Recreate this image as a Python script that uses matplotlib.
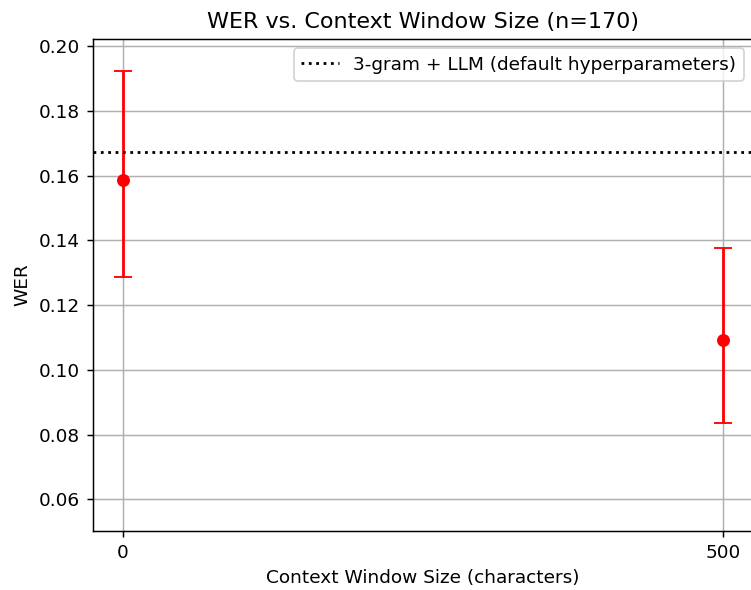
import matplotlib
matplotlib.use("Agg")
import matplotlib.pyplot as plt

context_sizes = [0, 500]
wer_means = [0.1586, 0.1091]
wer_lower = [0.1286, 0.0835]
wer_upper = [0.1923, 0.1376]
baseline_wer = 0.1672
baseline_label = "3-gram + LLM (default hyperparameters)"

DPI = 133.33
fig = plt.figure(figsize=(751/DPI, 590/DPI), dpi=DPI)
ax = fig.add_axes([93/751, 59/590, 660/751, 492/590])

yerr = [[m - l for m, l in zip(wer_means, wer_lower)],
        [u - m for m, u in zip(wer_means, wer_upper)]]
ax.errorbar(context_sizes, wer_means, yerr=yerr, fmt='o', color='red', capsize=5)
ax.axhline(baseline_wer, color='black', linestyle=':', label=baseline_label)

ax.set_xlim(-25, 525)
ax.set_ylim(0.0502, 0.2022)
ax.set_xticks(context_sizes)
ax.set_yticks([0.06, 0.08, 0.10, 0.12, 0.14, 0.16, 0.18, 0.20])
ax.grid(True)
ax.set_title("WER vs. Context Window Size (n=170)", fontsize=12)
ax.set_xlabel("Context Window Size (characters)")
ax.set_ylabel("WER")
ax.legend(loc='upper right')

fig.savefig("out.png", dpi=DPI)
